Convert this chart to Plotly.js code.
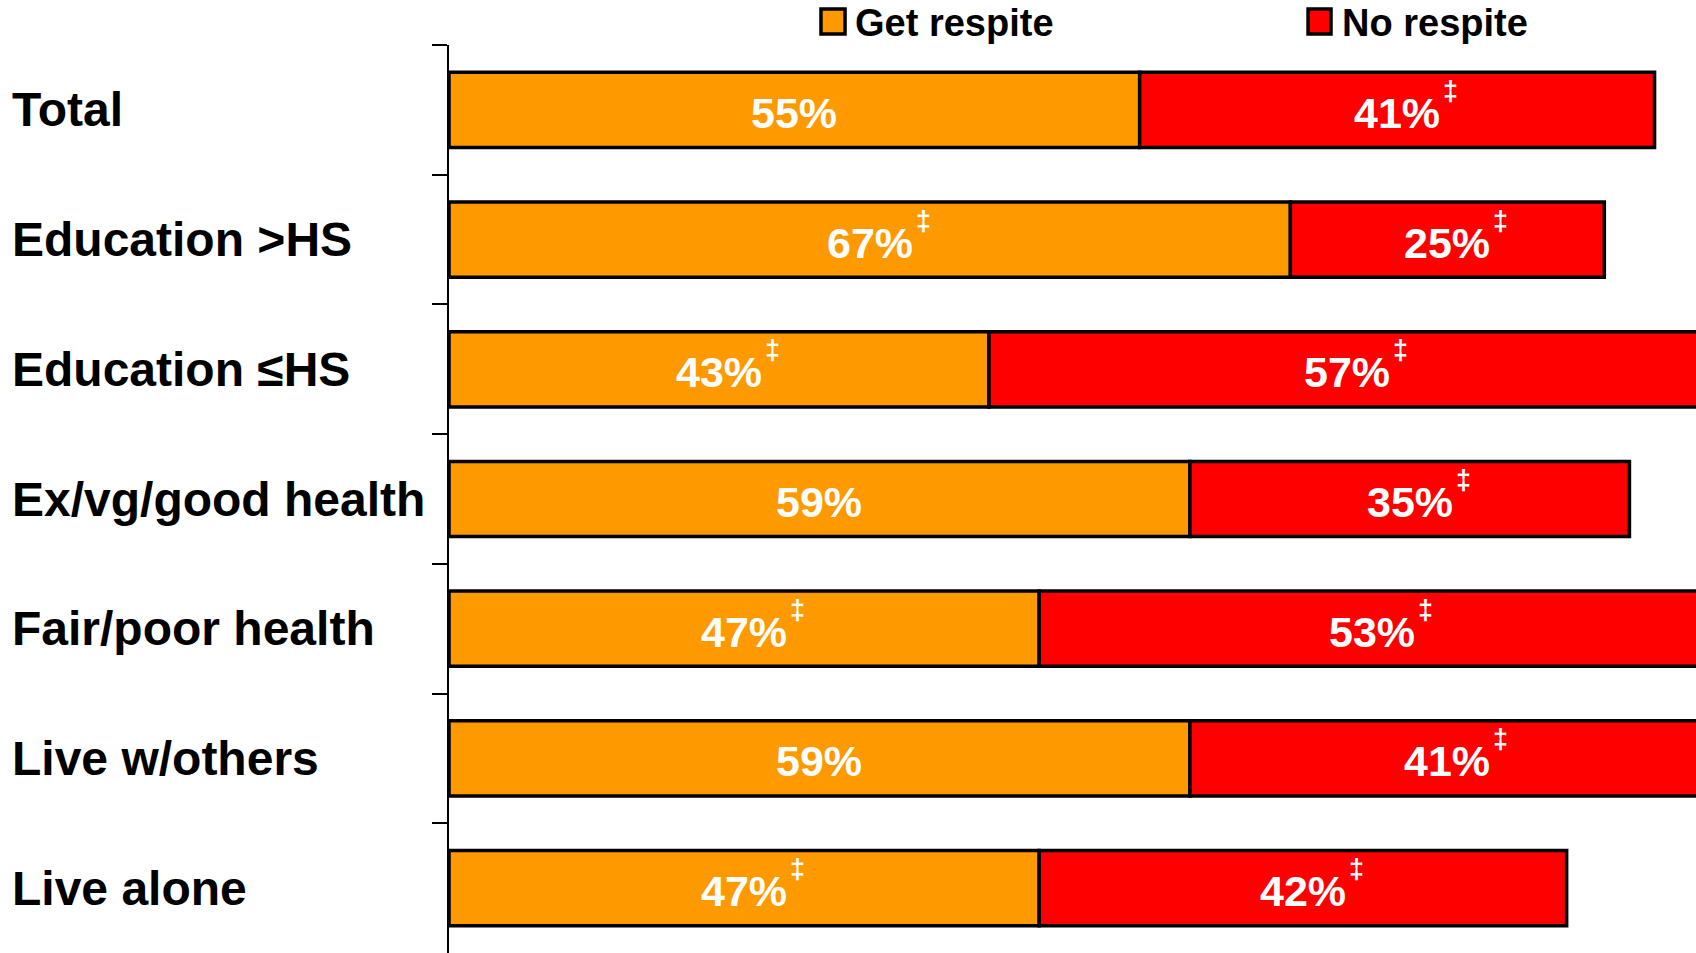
<!DOCTYPE html>
<html>
<head>
<meta charset="utf-8">
<script src="https://cdn.plot.ly/plotly-3.0.1.min.js"></script>
<style>
  html, body { margin: 0; padding: 0; background: #ffffff; }
  #chart { width: 1696px; height: 953px; }
</style>
</head>
<body>
<div id="chart"></div>
<script>
// ---- Data ----
const categories = ['Total', 'Education >HS', 'Education \u2264HS', 'Ex/vg/good health', 'Fair/poor health', 'Live w/others', 'Live alone'];
const seriesNames = ['Get respite', 'No respite'];
const getRespite = [55, 67, 43, 59, 47, 59, 47];
const noRespite = [41, 25, 57, 35, 53, 41, 42];
// significance marker (‡) flags
const getSig = [false, true, true, false, true, false, true];
const noSig = [true, true, true, true, true, true, true];
const sigMark = '\u2021';

// ---- Styles ----
const FONT = 'Liberation Sans, Arial, sans-serif';
const ORANGE = '#FF9900';
const RED = '#FF0000';

const traces = [
  {
    type: 'bar', orientation: 'h', name: seriesNames[0],
    y: categories, x: getRespite,
    marker: { color: ORANGE, line: { color: '#000000', width: 3.5 } },
    hoverinfo: 'none', textposition: 'none', showlegend: false
  },
  {
    type: 'bar', orientation: 'h', name: seriesNames[1],
    y: categories, x: noRespite, base: getRespite,
    marker: { color: RED, line: { color: '#000000', width: 3.5 } },
    hoverinfo: 'none', textposition: 'none', showlegend: false
  }
];

const annotations = [];
// category labels (left aligned at the page edge)
categories.forEach(function (c) {
  annotations.push({
    xref: 'paper', yref: 'y', x: 0, y: c, xanchor: 'left', yanchor: 'middle',
    xshift: -439, yshift: 0, showarrow: false, text: c,
    font: { family: FONT, size: 48, color: '#000000', weight: 'bold' }
  });
});
// value labels + significance marks
function addValues(starts, vals, sig) {
  categories.forEach(function (c, i) {
    const mid = starts[i] + vals[i] / 2;
    annotations.push({
      xref: 'x', yref: 'y', x: mid, y: c, xanchor: 'center', yanchor: 'middle',
      yshift: -3, showarrow: false, text: vals[i] + '%',
      font: { family: FONT, size: 43, color: '#FFFFFF', weight: 'bold' }
    });
    if (sig[i]) {
      annotations.push({
        xref: 'x', yref: 'y', x: mid, y: c, xanchor: 'left', yanchor: 'middle',
        xshift: 44, yshift: 19, showarrow: false, text: sigMark,
        font: { family: FONT, size: 27, color: '#FFFFFF', weight: 'bold' }
      });
    }
  });
}
addValues(getRespite.map(function () { return 0; }), getRespite, getSig);
addValues(getRespite, noRespite, noSig);

// manual legend
const legendColors = [ORANGE, RED];
const legendBoxes = [[0.2983, 0.3176], [0.6889, 0.7073]];
const legendText = [0.3240, 0.7148];
const shapes = [];
seriesNames.forEach(function (n, i) {
  shapes.push({
    type: 'rect', xref: 'paper', yref: 'paper',
    x0: legendBoxes[i][0], x1: legendBoxes[i][1], y0: 1.0121, y1: 1.0396,
    fillcolor: legendColors[i], line: { color: '#000000', width: 3.5 }
  });
  annotations.push({
    xref: 'paper', yref: 'paper', x: legendText[i], y: 1.0242,
    xanchor: 'left', yanchor: 'middle', showarrow: false, text: n,
    font: { family: FONT, size: 38, color: '#000000', weight: 'bold' }
  });
});

const layout = {
  width: 1696, height: 953,
  margin: { l: 449, r: 0, t: 45, b: 0, pad: 0 },
  paper_bgcolor: '#FFFFFF', plot_bgcolor: '#FFFFFF',
  barmode: 'overlay', bargap: 0.42,
  showlegend: false,
  xaxis: { range: [0, 99.3], visible: false, fixedrange: true },
  yaxis: {
    type: 'category', autorange: 'reversed',
    showline: true, linecolor: '#000000', linewidth: 2,
    ticks: 'outside', ticklen: 15, tickwidth: 2, tickcolor: '#000000',
    tickson: 'boundaries', showticklabels: false,
    showgrid: false, zeroline: false, fixedrange: true
  },
  annotations: annotations,
  shapes: shapes
};

Plotly.newPlot('chart', traces, layout, { displayModeBar: false, staticPlot: true });
</script>
</body>
</html>
